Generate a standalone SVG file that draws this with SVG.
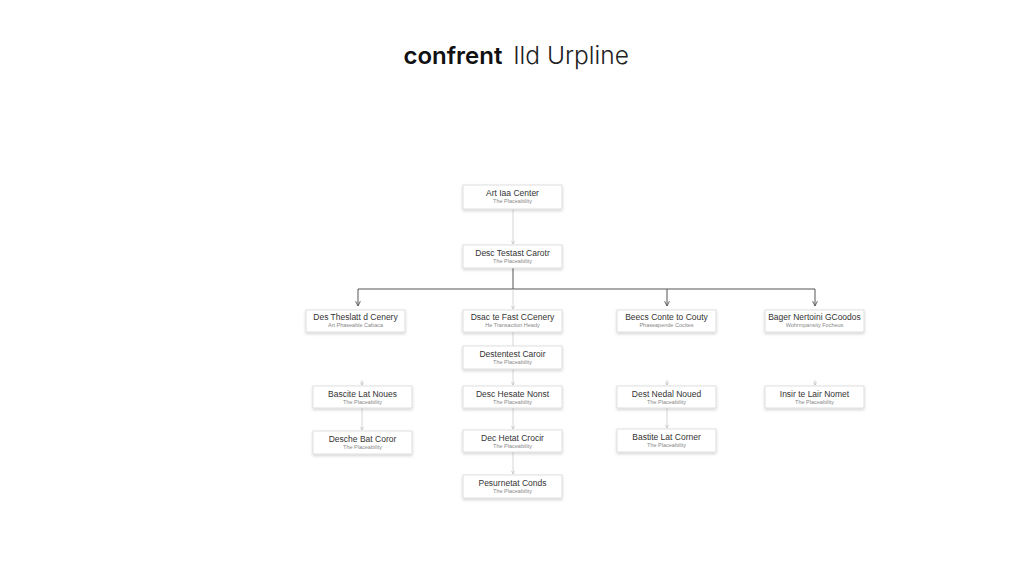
<svg xmlns="http://www.w3.org/2000/svg" width="1024" height="585" viewBox="0 0 1024 585">
<defs>
<filter id="sh" x="-10%" y="-30%" width="120%" height="170%">
<feDropShadow dx="0" dy="1.5" stdDeviation="1.5" flood-color="#000" flood-opacity="0.18"/>
</filter>
<marker id="ah" viewBox="0 0 10 10" refX="9" refY="5" markerWidth="6" markerHeight="6" orient="auto">
<path d="M1,1 L9,5 L1,9" fill="none" stroke="#555" stroke-width="1.5"/>
</marker>
<marker id="ahl" viewBox="0 0 10 10" refX="9" refY="5" markerWidth="5" markerHeight="5" orient="auto">
<path d="M1,1 L9,5 L1,9" fill="none" stroke="#bbb" stroke-width="1.5"/>
</marker>
<style>
.box{fill:#fff;stroke:#d8d8d8;stroke-width:0.8;filter:url(#sh)}
.t{font-family:"Liberation Sans",Arial,sans-serif;font-size:8.5px;fill:#333;text-anchor:middle}
.s{font-family:"Liberation Sans",Arial,sans-serif;font-size:5.5px;fill:#888;text-anchor:middle}
.c{fill:none;stroke:#555;stroke-width:1}
.cl{fill:none;stroke:#ccc;stroke-width:0.8}
</style>
</defs>
<rect width="1024" height="585" fill="#fff"/>
<g id="title">
<text x="453" y="64" font-family="Inter,'Liberation Sans',sans-serif" font-size="24" font-weight="600" fill="#111" text-anchor="middle">confrent</text>
<text x="571" y="64" font-family="Inter,'Liberation Sans',sans-serif" font-size="24.5" font-weight="300" fill="#222" text-anchor="middle">Ild Urpline</text>
</g>
<g id="connectors">
<line class="cl" x1="513" y1="209" x2="513" y2="244" marker-end="url(#ahl)"/>
<line class="c" x1="513" y1="268" x2="513" y2="289"/>
<line class="c" x1="358" y1="289" x2="815" y2="289"/>
<line class="c" x1="358" y1="289" x2="358" y2="306" marker-end="url(#ah)"/>
<line class="cl" x1="513" y1="289" x2="513" y2="309" marker-end="url(#ahl)"/>
<line class="c" x1="667" y1="289" x2="667" y2="306" marker-end="url(#ah)"/>
<line class="c" x1="815" y1="289" x2="815" y2="306" marker-end="url(#ah)"/>
<line class="cl" x1="513" y1="332" x2="513" y2="346"/>
<line class="cl" x1="513" y1="369" x2="513" y2="385" marker-end="url(#ahl)"/>
<line class="cl" x1="513" y1="408" x2="513" y2="429" marker-end="url(#ahl)"/>
<line class="cl" x1="513" y1="452" x2="513" y2="474" marker-end="url(#ahl)"/>
<line class="cl" x1="362" y1="380" x2="362" y2="385" marker-end="url(#ahl)"/>
<line class="cl" x1="362" y1="408" x2="362" y2="430" marker-end="url(#ahl)"/>
<line class="cl" x1="667" y1="380" x2="667" y2="385" marker-end="url(#ahl)"/>
<line class="cl" x1="667" y1="408" x2="667" y2="428" marker-end="url(#ahl)"/>
<line class="cl" x1="815" y1="380" x2="815" y2="385" marker-end="url(#ahl)"/>
</g>
<g id="n1"><rect class="box" x="463" y="185" width="99" height="24"/><text class="t" x="512.5" y="196">Art Iaa Center</text><text class="s" x="512.5" y="203">The Placeability</text></g>
<g id="n2"><rect class="box" x="463" y="245" width="99" height="23"/><text class="t" x="512.5" y="256">Desc Testast Carotr</text><text class="s" x="512.5" y="263">The Placeability</text></g>
<g id="n3"><rect class="box" x="306" y="310" width="99" height="22"/><text class="t" x="355.5" y="320">Des Theslatt d Cenery</text><text class="s" x="355.5" y="327">Art Phaseable Cabaca</text></g>
<g id="n4"><rect class="box" x="463" y="310" width="99" height="22"/><text class="t" x="512.5" y="320">Dsac te Fast CCenery</text><text class="s" x="512.5" y="327">He Transaction Heady</text></g>
<g id="n5"><rect class="box" x="617" y="310" width="99" height="22"/><text class="t" x="666.5" y="320">Beecs Conte to Couty</text><text class="s" x="666.5" y="327">Phaseapende Cocttes</text></g>
<g id="n6"><rect class="box" x="765" y="310" width="99" height="22"/><text class="t" x="814.5" y="320">Bager Nertoini GCoodos</text><text class="s" x="814.5" y="327">Wohrmpansity Focheus</text></g>
<g id="n7"><rect class="box" x="463" y="346" width="99" height="23"/><text class="t" x="512.5" y="357">Destentest Caroir</text><text class="s" x="512.5" y="364">The Placeability</text></g>
<g id="n8"><rect class="box" x="313" y="386" width="99" height="22"/><text class="t" x="362.5" y="397">Bascite Lat Noues</text><text class="s" x="362.5" y="404">The Placeability</text></g>
<g id="n9"><rect class="box" x="463" y="386" width="99" height="22"/><text class="t" x="512.5" y="397">Desc Hesate Nonst</text><text class="s" x="512.5" y="404">The Placeability</text></g>
<g id="n10"><rect class="box" x="617" y="386" width="99" height="22"/><text class="t" x="666.5" y="397">Dest Nedal Noued</text><text class="s" x="666.5" y="404">The Placeability</text></g>
<g id="n11"><rect class="box" x="765" y="386" width="99" height="22"/><text class="t" x="814.5" y="397">Insir te Lair Nomet</text><text class="s" x="814.5" y="404">The Placeability</text></g>
<g id="n12"><rect class="box" x="313" y="431" width="99" height="23"/><text class="t" x="362.5" y="442">Desche Bat Coror</text><text class="s" x="362.5" y="449">The Placeability</text></g>
<g id="n13"><rect class="box" x="463" y="430" width="99" height="22"/><text class="t" x="512.5" y="441">Dec Hetat Crocir</text><text class="s" x="512.5" y="448">The Placeability</text></g>
<g id="n14"><rect class="box" x="617" y="429" width="99" height="23"/><text class="t" x="666.5" y="440">Bastite Lat Corner</text><text class="s" x="666.5" y="447">The Placeability</text></g>
<g id="n15"><rect class="box" x="463" y="475" width="99" height="23"/><text class="t" x="512.5" y="486">Pesurnetat Conds</text><text class="s" x="512.5" y="493">The Placeability</text></g>
</svg>
